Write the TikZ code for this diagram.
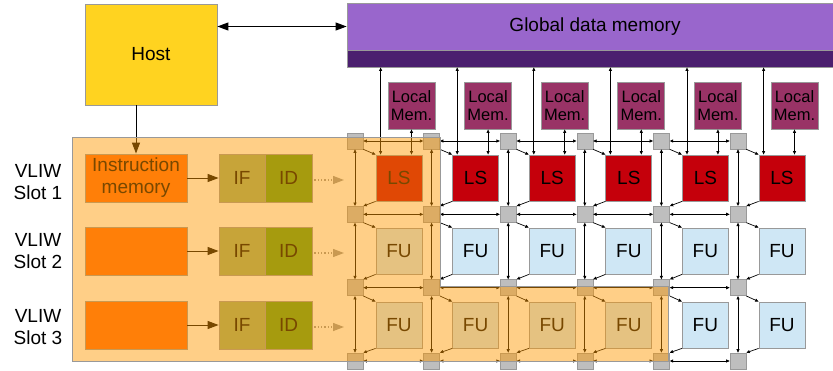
\documentclass[tikz,border=0pt]{standalone}
\usepackage{fontspec}
\setmainfont{Liberation Sans}
\usetikzlibrary{arrows.meta,calc}
\definecolor{hostc}{HTML}{FFD320}
\definecolor{glob}{HTML}{9966CC}
\definecolor{globd}{HTML}{4B1F6F}
\definecolor{lmem}{HTML}{993366}
\definecolor{lsc}{HTML}{C5000B}
\definecolor{fuc}{HTML}{CFE7F5}
\definecolor{rtc}{HTML}{BEBEBE}
\definecolor{imc}{HTML}{FF6810}
\definecolor{ifc}{HTML}{97AE6D}
\definecolor{idc}{HTML}{579D1C}
\definecolor{ovl}{HTML}{FF9900}
\definecolor{bord}{HTML}{999999}
\begin{document}
\begin{tikzpicture}[x=1pt,y=-1pt,
  box/.style={draw=bord, line width=0.8pt, inner sep=0pt, align=center, font=\fontsize{19}{22}\selectfont},
  pebox/.style={box, minimum width=46pt, minimum height=46pt},
  router/.style={draw=bord, line width=0.6pt, fill=rtc, minimum size=16pt, inner sep=0pt},
  lbl/.style={inner sep=0pt, align=center, font=\fontsize{19}{21.5}\selectfont},
  sboth/.style={line width=0.7pt, {Triangle[length=3.5pt,width=3pt]}-{Triangle[length=3.5pt,width=3pt]}},
  sone/.style={line width=0.7pt, -{Triangle[length=3.5pt,width=3pt]}},
  bigarr/.style={line width=1pt, -{Triangle[length=11pt,width=8pt]}},
  bigboth/.style={line width=1pt, {Triangle[length=11pt,width=8pt]}-{Triangle[length=11pt,width=8pt]}},
  dotarr/.style={draw=bord, line width=1.3pt, dotted, -{Triangle[length=11pt,width=8pt]}, shorten <=2pt}
]
\useasboundingbox (0,0) rectangle (833,370);

% Host and global memory
\node[box, fill=hostc, minimum width=132pt, minimum height=101pt] (host) at (151,54.5) {Host};
\node[box, fill=glob, minimum width=489pt, minimum height=47pt] (gtop) at (591.5,26.5) {};
\node[lbl] (gtxt) at (595,27) {Global data memory};
\node[box, fill=globd, minimum width=489pt, minimum height=17pt] (gbar) at (591.5,58.5) {};
\draw[bigboth] (gtop.west) -- (gtop.west -| host.east);

% routers
\foreach \k in {0,...,5} {
  \foreach \r in {0,...,3} {
    \node[router] (r-\r-\k) at ({355+76.6*\k},{141+73.33*\r}) {};
  }
  \node[pebox, fill=lsc] (p-1-\k) at ({399+76.6*\k},178) {LS};
  \node[pebox, fill=fuc] (p-2-\k) at ({399+76.6*\k},251) {FU};
  \node[pebox, fill=fuc] (p-3-\k) at ({399+76.6*\k},325) {FU};
  \node[box, fill=lmem, minimum width=47pt, minimum height=47pt, font=\fontsize{16.5}{18.5}\selectfont] (m-\k) at ({411.5+76.6*\k},105.5) {Local\\Mem.};
  % memory connections
  \draw[sboth] ([xshift=5pt]p-1-\k.north west) -- ([xshift=5pt]p-1-\k.north west |- gbar.south);
  \draw[sboth] (m-\k.south) -- (m-\k.south |- p-1-\k.north);
}

% router mesh
\foreach \r in {0,...,3} {
  \foreach \k [evaluate=\k as \kk using int(\k+1)] in {0,...,4} {
    \draw[sboth] (r-\r-\k) -- (r-\r-\kk);
  }
}
\foreach \r [evaluate=\r as \rr using int(\r+1)] in {0,...,2} {
  \foreach \k in {0,...,5} {
    \draw[sboth] (r-\r-\k) -- (r-\rr-\k);
    \draw[sone] (r-\r-\k.south east) -- (p-\rr-\k.north west);
    \draw[sone] (p-\rr-\k.south west) -- (r-\rr-\k.north east);
  }
}

% VLIW slots
\node[box, fill=imc, minimum width=102pt, minimum height=48pt] (im1) at (136,178) {Instruction\\memory};
\node[box, fill=imc, minimum width=102pt, minimum height=48pt] (im2) at (136,251) {};
\node[box, fill=imc, minimum width=102pt, minimum height=48pt] (im3) at (136,325) {};
\foreach \i/\y in {1/178,2/251,3/325} {
  \node[box, fill=ifc, minimum width=46pt, minimum height=48pt] (if\i) at (242,\y) {IF};
  \node[box, fill=idc, minimum width=47pt, minimum height=48pt] (id\i) at (288.5,\y) {ID};
  \draw[bigarr] (im\i.east) -- (if\i.west);
  \coordinate (dend\i) at (344,\y+2);
  \draw[dotarr] (id\i.east |- dend\i) -- (dend\i);
}
\draw[bigarr] (host.south -| im1.north) -- (im1.north);

\node[lbl] (s1) at (38,182) {VLIW\\Slot 1};
\node[lbl] (s2) at (38,251) {VLIW\\Slot 2};
\node[lbl] (s3) at (38,327) {VLIW\\Slot 3};

% translucent overlay
\fill[ovl, fill opacity=0.47] (72,137) -- (440,137) -- (440,286) -- (668,286) -- (668,361) -- (72,361) -- cycle;
\draw[bord, line width=0.8pt] (72,137) -- (440,137) -- (440,286) -- (668,286) -- (668,361) -- (72,361) -- cycle;
\end{tikzpicture}
\end{document}
